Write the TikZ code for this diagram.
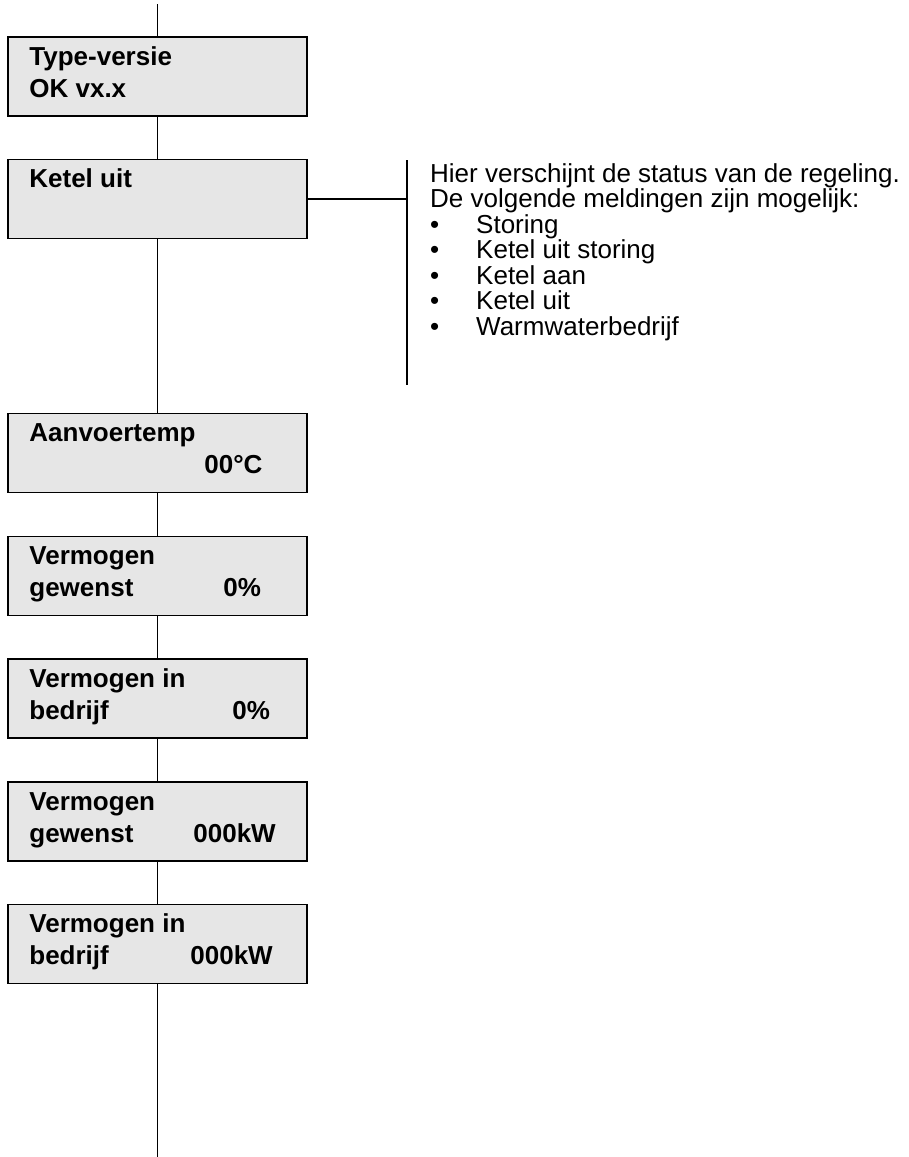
\documentclass[tikz,border=0pt]{standalone}
\usepackage{fontspec}
\setmainfont{Liberation Sans}
\usepackage{tikz}
\usetikzlibrary{calc}
\definecolor{boxgray}{HTML}{E6E6E6}

\begin{document}
\begin{tikzpicture}[x=1pt,y=-1pt,
    menubox/.style={draw=black,fill=boxgray,line width=1.6pt,minimum width=299pt,minimum height=79pt,inner sep=0pt},
    boxtxt/.style={anchor=base west,inner sep=0pt,font=\fontsize{26}{30}\selectfont\bfseries},
    infotxt/.style={anchor=base west,inner sep=0pt,font=\fontsize{26}{30}\selectfont},
    link/.style={line width=1.3pt}]
    \useasboundingbox (0,0) rectangle (909,1157);
    % menu boxes
    \node[menubox] (b1) at (157.5,76.5) {};
    \node[menubox] (b2) at (157.5,199) {};
    \node[menubox] (b3) at (157.5,453) {};
    \node[menubox] (b4) at (157.5,576) {};
    \node[menubox] (b5) at (157.5,698.5) {};
    \node[menubox] (b6) at (157.5,821.5) {};
    \node[menubox] (b7) at (157.5,944) {};
    \node[boxtxt] (t1a) at ($(b1.north west)+(22,29)$) {Type-versie};
    \node[boxtxt] (t1b) at ($(b1.north west)+(22,61)$) {OK vx.x};
    \node[boxtxt] (t2a) at ($(b2.north west)+(22,29)$) {Ketel uit};
    \node[boxtxt] (t3a) at ($(b3.north west)+(22,29)$) {Aanvoertemp};
    \node[boxtxt] (t3v) at ($(b3.north west)+(197,61)$) {00°C};
    \node[boxtxt] (t4a) at ($(b4.north west)+(22,29)$) {Vermogen};
    \node[boxtxt] (t4b) at ($(b4.north west)+(22,61)$) {gewenst};
    \node[boxtxt] (t4v) at ($(b4.north west)+(216,61)$) {0\%};
    \node[boxtxt] (t5a) at ($(b5.north west)+(22,29)$) {Vermogen in};
    \node[boxtxt] (t5b) at ($(b5.north west)+(22,61)$) {bedrijf};
    \node[boxtxt] (t5v) at ($(b5.north west)+(225,61)$) {0\%};
    \node[boxtxt] (t6a) at ($(b6.north west)+(22,29)$) {Vermogen};
    \node[boxtxt] (t6b) at ($(b6.north west)+(22,61)$) {gewenst};
    \node[boxtxt] (t6v) at ($(b6.north west)+(186,61)$) {000kW};
    \node[boxtxt] (t7a) at ($(b7.north west)+(22,29)$) {Vermogen in};
    \node[boxtxt] (t7b) at ($(b7.north west)+(22,61)$) {bedrijf};
    \node[boxtxt] (t7v) at ($(b7.north west)+(183,61)$) {000kW};
    % vertical chain
    \coordinate (top) at (157.5,4);
    \coordinate (bottom) at (157.5,1157);
    \draw[link] (top) -- (b1);
    \draw[link] (b1) -- (b2);
    \draw[link] (b2) -- (b3);
    \draw[link] (b3) -- (b4);
    \draw[link] (b4) -- (b5);
    \draw[link] (b5) -- (b6);
    \draw[link] (b6) -- (b7);
    \draw[link] (b7) -- (bottom);
    % status note
    \coordinate (brktop) at (407,160);
    \coordinate (brkbot) at (407,385);
    \draw[link] (brktop) -- (brkbot);
    \draw[link] (b2.east) -- (b2.east -| brktop);
    \node[infotxt] (info1) at (430,182) {Hier verschijnt de status van de regeling.};
    \node[infotxt] (info2) at (430,207.5) {De volgende meldingen zijn mogelijk:};
    \foreach \txt [count=\i] in {Storing,Ketel uit storing,Ketel aan,Ketel uit,Warmwaterbedrijf} {
      \node[infotxt] (bul\i) at (430,207.5+25.5*\i) {\textbullet};
      \node[infotxt] (item\i) at (476,207.5+25.5*\i) {\txt};
    }
\end{tikzpicture}
\end{document}
